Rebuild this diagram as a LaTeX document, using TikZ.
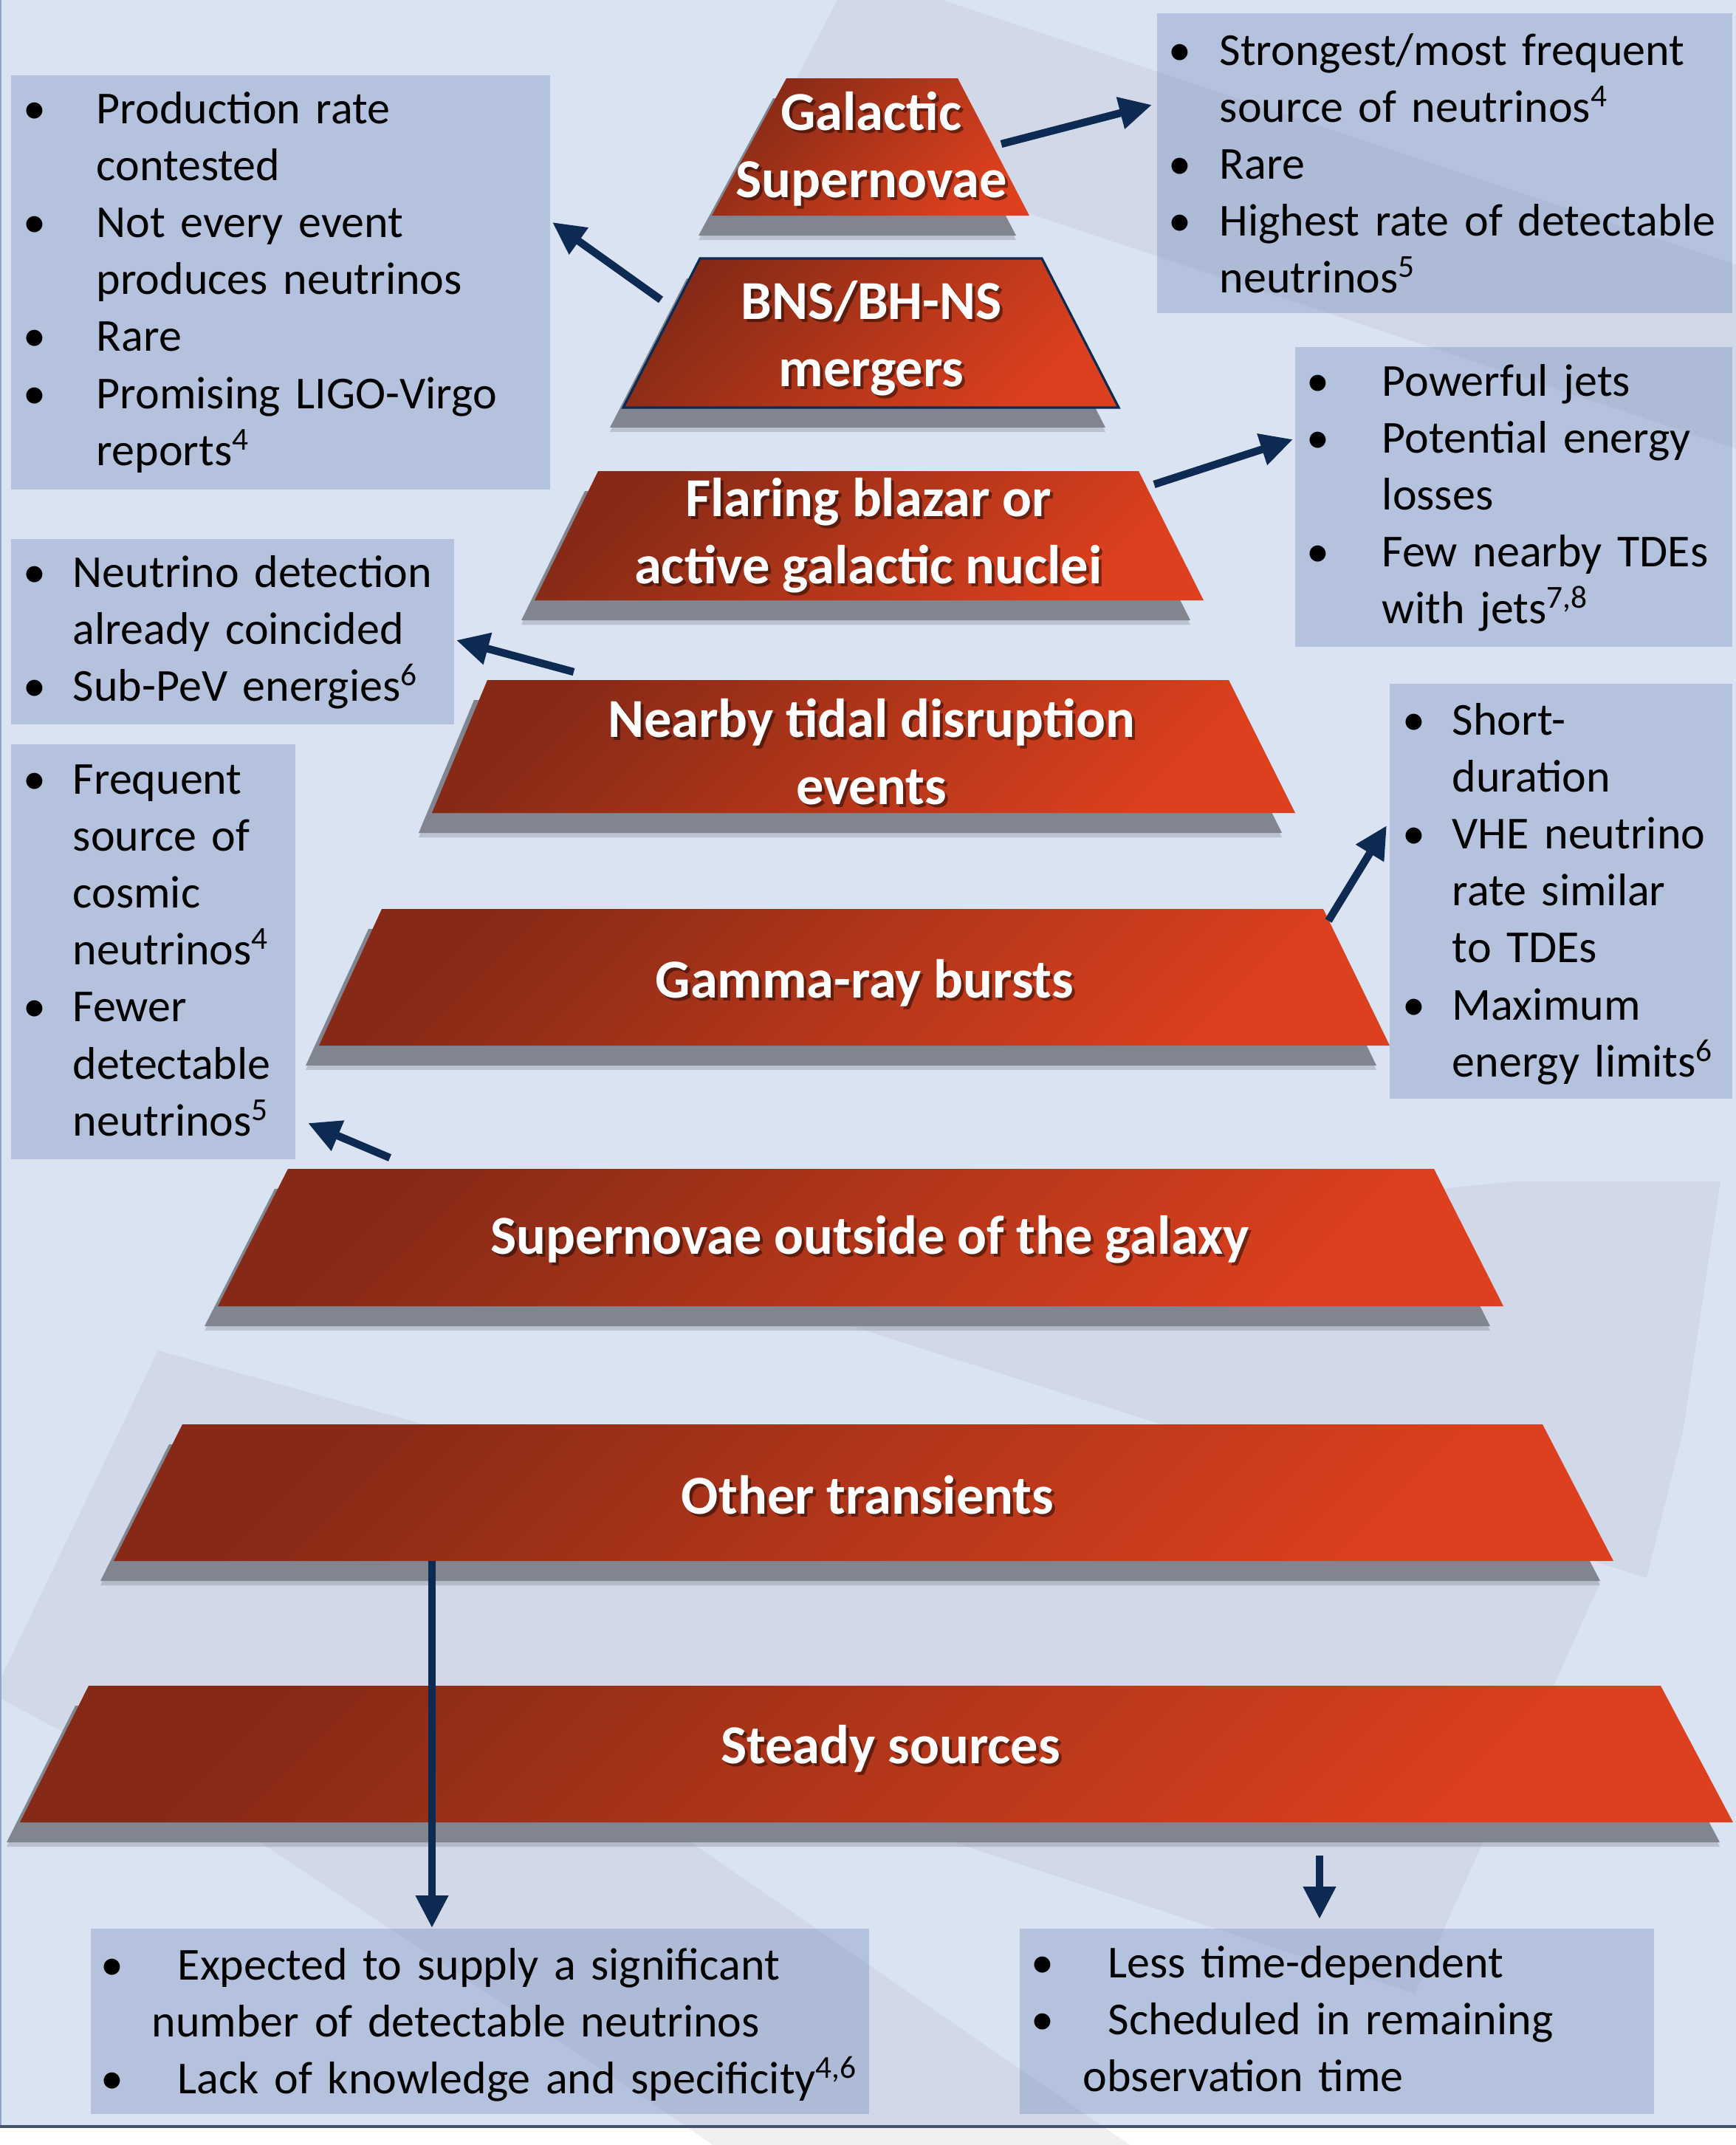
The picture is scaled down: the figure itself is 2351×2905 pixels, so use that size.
\documentclass[tikz,border=0pt]{standalone}
\usepackage{fontspec}
\setmainfont{Carlito}
\usetikzlibrary{arrows.meta,fit}

\definecolor{bgblue}{RGB}{218,227,242}
\definecolor{wmblue}{RGB}{209,217,232}
\definecolor{wmgray}{RGB}{240,240,240}
\definecolor{boxblue}{RGB}{95,120,175}
\definecolor{trapdark}{RGB}{134,42,23}
\definecolor{trapmid}{RGB}{178,54,26}
\definecolor{traplight}{RGB}{220,64,30}
\definecolor{trapshadow}{RGB}{128,133,143}
\definecolor{navy}{RGB}{12,42,82}
\definecolor{edgeline}{RGB}{68,84,106}
\definecolor{sideline}{RGB}{143,165,208}

\newlength\bulw
\newlength\indw
\newcommand\itm{\makebox[\bulw][l]{\textbullet}}
\newcommand\ind{\hspace*{\indw}}

\tikzset{
  tier/.style={shade, top color=trapdark, bottom color=traplight, middle color=trapmid, shading angle=45},
  tiershadow/.style={fill=trapshadow},
  tierblur/.style={fill=trapshadow, opacity=0.35},
  tiertitle/.style={font=\bfseries\fontsize{18.6pt}{22.7pt}\selectfont, text=white, align=center, inner sep=0pt},
  tiertitleshadow/.style={tiertitle, text=black, opacity=0.45},
  infobox/.style={fill=boxblue, fill opacity=0.3, inner sep=0pt, draw=none},
  itemlist/.style 2 args={anchor=base west, inner sep=0pt, text width=400pt, align=left,
    font=\fontsize{15.5pt}{19.3pt}\selectfont,
    execute at begin node={\setlength\bulw{#1}\setlength\indw{#2}}},
  pointer/.style={draw=navy, line width=2.6pt, -{Triangle[width=10.5pt,length=11pt]}},
}

\begin{document}
\begin{tikzpicture}[x=0.25pt,y=0.25pt,yscale=-1,xscale=1]
\useasboundingbox (0,0) rectangle (2351,2905);

%Background
\fill[white] (0,0) rectangle (2351,2905);
\fill[wmgray] (930,2880) -- (1494,2880) -- (1530,2905) -- (965,2905) -- cycle;
\fill[bgblue] (0,0) rectangle (2351,2880);
\begin{scope}
\clip (0,0) rectangle (2351,2880);
%Watermark pieces
\fill[wmblue] (1134,0) -- (1276,0) -- (2351,358) -- (2351,608) -- (1044,173) -- cycle;
\fill[wmblue] (900,1716) -- (2050,1600) -- (2330,1600) -- (2279,1940) -- (2230,2137) -- cycle;
\fill[wmblue] (214,1829) -- (1200,2103) -- (885,2460) -- (1494,2880) -- (930,2880) -- (300,2460) -- (0,2300) -- (0,2275) -- cycle;
\fill[wmblue] (211,2141) -- (2168,2141) -- (1916,2700) -- cycle;
\end{scope}
\draw[sideline, line width=0.6pt] (1,0) -- (1,2880);
\draw[edgeline, line width=1pt] (0,2880) -- (2351,2880);

%Shape: Galactic Supernovae
\path[tierblur] (1047,139) -- (1279,139) -- (1376,325) -- (946,325) -- cycle;
\path[tiershadow] (1047,133) -- (1279,133) -- (1376,319) -- (946,319) -- cycle;
\path[tier] (1065,106) -- (1297,106) -- (1394,292) -- (964,292) -- cycle;
%Shape: BNS/BH-NS mergers
\path[tierblur] (930,383) -- (1393,383) -- (1497,585) -- (826,585) -- cycle;
\path[tiershadow] (930,377) -- (1393,377) -- (1497,579) -- (826,579) -- cycle;
\path[tier, draw=navy, line width=0.8pt] (948,350) -- (1411,350) -- (1515,552) -- (844,552) -- cycle;
%Shape: Flaring blazar
\path[tierblur] (792,671) -- (1524,671) -- (1612,846) -- (706,846) -- cycle;
\path[tiershadow] (792,665) -- (1524,665) -- (1612,840) -- (706,840) -- cycle;
\path[tier] (810,638) -- (1542,638) -- (1630,813) -- (724,813) -- cycle;
%Shape: Nearby tidal disruption events
\path[tierblur] (642,954) -- (1646,954) -- (1736,1134) -- (567,1134) -- cycle;
\path[tiershadow] (642,948) -- (1646,948) -- (1736,1128) -- (567,1128) -- cycle;
\path[tier] (660,921) -- (1664,921) -- (1754,1101) -- (585,1101) -- cycle;
%Shape: Gamma-ray bursts
\path[tierblur] (499,1264) -- (1774,1264) -- (1864,1449) -- (414,1449) -- cycle;
\path[tiershadow] (499,1258) -- (1774,1258) -- (1864,1443) -- (414,1443) -- cycle;
\path[tier] (517,1231) -- (1792,1231) -- (1882,1416) -- (432,1416) -- cycle;
%Shape: Supernovae outside of the galaxy
\path[tierblur] (372,1616) -- (1924,1616) -- (2018,1802) -- (277,1802) -- cycle;
\path[tiershadow] (372,1610) -- (1924,1610) -- (2018,1796) -- (277,1796) -- cycle;
\path[tier] (390,1583) -- (1942,1583) -- (2036,1769) -- (295,1769) -- cycle;
%Shape: Other transients
\path[tierblur] (229,1962) -- (2071,1962) -- (2167,2147) -- (136,2147) -- cycle;
\path[tiershadow] (229,1956) -- (2071,1956) -- (2167,2141) -- (136,2141) -- cycle;
\path[tier] (247,1929) -- (2089,1929) -- (2185,2114) -- (154,2114) -- cycle;
%Shape: Steady sources
\path[tierblur] (102,2316) -- (2231,2316) -- (2329,2501) -- (9,2501) -- cycle;
\path[tiershadow] (102,2310) -- (2231,2310) -- (2329,2495) -- (9,2495) -- cycle;
\path[tier] (120,2283) -- (2249,2283) -- (2347,2468) -- (27,2468) -- cycle;

% Text Node
\node[tiertitleshadow] (gsn-sh) at (1184,206) {Galactic\\Supernovae};
\node[tiertitle] (gsn) at (1180,202) {Galactic\\Supernovae};
% Text Node
\node[tiertitleshadow] (bns-sh) at (1184,462) {BNS/BH-NS\\mergers};
\node[tiertitle] (bns) at (1180,458) {BNS/BH-NS\\mergers};
% Text Node
\node[tiertitleshadow] (agn-sh) at (1180,729) {Flaring blazar or\\active galactic nuclei};
\node[tiertitle] (agn) at (1176,725) {Flaring blazar or\\active galactic nuclei};
% Text Node
\node[tiertitleshadow] (tde-sh) at (1184,1022) {Nearby tidal disruption\\events};
\node[tiertitle] (tde) at (1180,1018) {Nearby tidal disruption\\events};
% Text Node
\node[tiertitleshadow] (grb-sh) at (1175,1335) {Gamma-ray bursts};
\node[tiertitle] (grb) at (1171,1331) {Gamma-ray bursts};
% Text Node
\node[tiertitleshadow] (xsn-sh) at (1182,1683) {Supernovae outside of the galaxy};
\node[tiertitle] (xsn) at (1178,1679) {Supernovae outside of the galaxy};
% Text Node
\node[tiertitleshadow] (oth-sh) at (1179,2029) {Other transients};
\node[tiertitle] (oth) at (1175,2025) {Other transients};
% Text Node
\node[tiertitleshadow] (std-sh) at (1210,2372) {Steady sources};
\node[tiertitle] (std) at (1206,2368) {Steady sources};

%Boxes
\node[infobox, fit={(15,102) (745,663)}] (bnsbox) {};
\node[itemlist={24.75pt}{24.75pt}] (bnslist) at (31,167) {\itm Production rate\\ \ind contested\\ \itm Not every event\\ \ind produces neutrinos\\ \itm Rare\\ \itm Promising LIGO-Virgo\\ \ind reports\textsuperscript{4}};

\node[infobox, fit={(1567,18) (2346,424)}] (gsnbox) {};
\node[itemlist={17.25pt}{17.25pt}] (gsnlist) at (1582,88) {\itm Strongest/most frequent\\ \ind source of neutrinos\textsuperscript{4}\\ \itm Rare\\ \itm Highest rate of detectable\\ \ind neutrinos\textsuperscript{5}};

\node[infobox, fit={(1754,470) (2346,876)}] (agnbox) {};
\node[itemlist={25.5pt}{25.5pt}] (agnlist) at (1769,536) {\itm Powerful jets\\ \itm Potential energy\\ \ind losses\\ \itm Few nearby TDEs\\ \ind with jets\textsuperscript{7,8}};

\node[infobox, fit={(15,730) (615,981)}] (tdebox) {};
\node[itemlist={16.75pt}{16.75pt}] (tdelist) at (31,795) {\itm Neutrino detection\\ \ind already coincided\\ \itm Sub-PeV energies\textsuperscript{6}};

\node[infobox, fit={(15,1008) (400,1570)}] (xsnbox) {};
\node[itemlist={16.75pt}{16.75pt}] (xsnlist) at (31,1075) {\itm Frequent\\ \ind source of\\ \ind cosmic\\ \ind neutrinos\textsuperscript{4}\\ \itm Fewer\\ \ind detectable\\ \ind neutrinos\textsuperscript{5}};

\node[infobox, fit={(1882,926) (2346,1488)}] (grbbox) {};
\node[itemlist={16.75pt}{16.75pt}] (grblist) at (1899,995) {\itm Short-\\ \ind duration\\ \itm VHE neutrino\\ \ind rate similar\\ \ind to TDEs\\ \itm Maximum\\ \ind energy limits\textsuperscript{6}};

\node[infobox, fit={(123,2612) (1177,2863)}] (othbox) {};
\node[itemlist={26pt}{17.25pt}] (othlist) at (136,2681) {\itm Expected to supply a significant\\ \ind number of detectable neutrinos\\ \itm Lack of knowledge and specificity\textsuperscript{4,6}};

\node[infobox, fit={(1381,2612) (2240,2863)}] (stdbox) {};
\node[itemlist={26pt}{17.5pt}] (stdlist) at (1396,2678) {\itm Less time-dependent\\ \itm Scheduled in remaining\\ \ind observation time};

%Arrows
\coordinate (gsn-out) at (1356,195);
\coordinate (gsn-in) at (1560,142);
\coordinate (bns-out) at (895,406);
\coordinate (bns-in) at (748,301);
\coordinate (agn-out) at (1563,656);
\coordinate (agn-in) at (1751,595);
\coordinate (tde-out) at (777,910);
\coordinate (tde-in) at (618,867);
\coordinate (grb-out) at (1799,1247);
\coordinate (grb-in) at (1878,1118);
\coordinate (xsn-out) at (528,1568);
\coordinate (xsn-in) at (417,1521);
\coordinate (oth-out) at (585,2114);
\coordinate (oth-in) at (585,2611);
\coordinate (std-out) at (1787,2513);
\coordinate (std-in) at (1787,2599);
\draw[pointer] (gsn-out) -- (gsn-in);
\draw[pointer] (bns-out) -- (bns-in);
\draw[pointer] (agn-out) -- (agn-in);
\draw[pointer] (tde-out) -- (tde-in);
\draw[pointer] (grb-out) -- (grb-in);
\draw[pointer] (xsn-out) -- (xsn-in);
\draw[pointer] (oth-out) -- (oth-in);
\draw[pointer] (std-out) -- (std-in);

\end{tikzpicture}
\end{document}
